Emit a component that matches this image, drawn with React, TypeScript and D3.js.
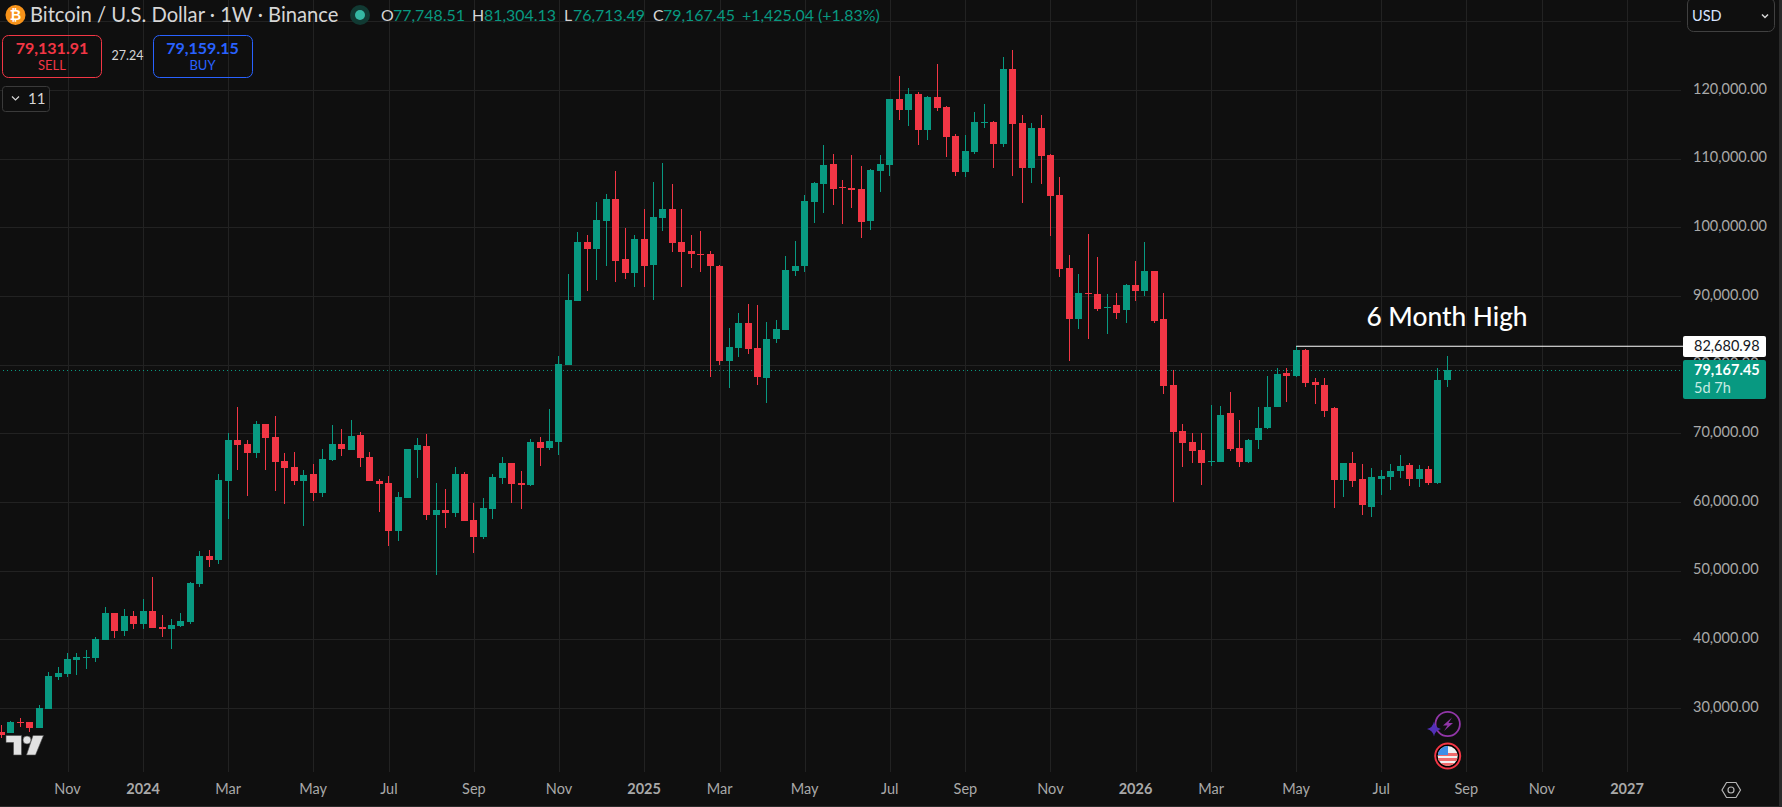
import React from "react";
import * as d3 from "d3";

// weekly candles, index 0 = first Monday of Nov 2023
const firstBar = -7;
const opens = [
  26506, 26360, 27962, 27962, 27088, 29855, 34515, 34952, 36991, 37282, 37282, 39904, 43836, 41214, 43399, 42234,
  44127, 41797, 41506, 41943, 42525, 48059, 52137, 51554, 63059, 69029, 68447, 67136, 71360, 69467, 65972, 65098,
  63059, 64078, 61311, 66117, 68447, 67573, 69758, 66554, 63059, 62768, 55778, 60583, 67573, 68156, 58107, 58835,
  58398, 64078, 57379, 54903, 58981, 63496, 65681, 62768, 62476, 68739, 67864, 68739, 79952, 89272, 97865, 96844,
  100922, 104126, 95388, 93350, 98301, 94515, 101360, 102670, 97865, 96553, 96116, 96116, 94369, 80534, 82427, 86068,
  82427, 78058, 83738, 85049, 93641, 94301, 103689, 106311, 109224, 105874, 105729, 105583, 100922, 108204, 109078,
  118689, 117088, 119418, 114175, 118981, 117525, 113301, 108058, 110971, 115194, 115340, 112136, 123059, 115194,
  108641, 114466, 110535, 104709, 94078, 86650, 90437, 90292, 88253, 88689, 87961, 91602, 90729, 93641, 86650, 77039,
  70340, 68739, 67573, 65826, 65826, 72962, 67864, 65826, 69029, 70778, 73836, 78787, 78350, 82136, 77476, 77039,
  73689, 63205, 65681, 63350, 59272, 63350, 63642, 64515, 65388, 63350, 64806, 62768, 77748.51,
];
const highs = [
  27525, 28108, 28545, 27962, 30438, 35244, 35972, 38011, 38011, 38448, 40341, 44710, 43836, 44418, 44127, 45875,
  49079, 43545, 42962, 43836, 48351, 52865, 53011, 64078, 70049, 73836, 69029, 71797, 71360, 72525, 67136, 67282,
  64660, 65535, 67719, 71214, 70632, 71942, 70195, 67282, 63350, 63787, 61457, 67719, 69321, 69904, 62768, 61894,
  65098, 64369, 59855, 60583, 64078, 66554, 65681, 64515, 69175, 69467, 73544, 81263, 93209, 99321, 98884, 103689,
  104854, 108204, 99904, 98884, 102670, 106602, 109369, 106311, 102670, 98884, 99467, 96553, 94515, 85340, 87524, 88835,
  88689, 86214, 86505, 95825, 98010, 104709, 106602, 111991, 110680, 106894, 110535, 108932, 108495, 110535, 118689,
  122039, 120292, 119709, 119127, 123787, 117670, 113593, 113447, 116796, 117962, 115485, 124806, 125825, 116359,
  115194, 116359, 110680, 107330, 95971, 93209, 99030, 95679, 90292, 90437, 91748, 95097, 97865, 93641, 90437, 79223,
  71360, 70049, 70049, 74127, 73981, 76020, 71942, 69175, 73836, 78350, 79515, 79515, 82680.98, 82282, 78058, 78058,
  73836, 65681, 67282, 65535, 64952, 64660, 65535, 66845, 65681, 65388, 65243, 79515, 81304.13,
];
const lows = [
  25632, 26360, 27234, 26506, 27088, 29855, 34079, 34515, 34807, 35681, 36700, 39904, 40195, 40486, 41506, 41506,
  41651, 40341, 38593, 41797, 42234, 47622, 50535, 50972, 57526, 64660, 60874, 66408, 64660, 61602, 59709, 62476,
  56506, 60146, 60729, 65972, 66700, 67573, 65098, 63059, 58544, 53594, 54320, 60583, 63496, 57379, 49371, 56214,
  57816, 57233, 52573, 54612, 57525, 62622, 59855, 58981, 62330, 65243, 67573, 66845, 79952, 89272, 90729, 92330,
  94301, 92039, 92476, 91311, 91311, 89418, 99467, 96408, 91311, 94078, 93496, 78204, 79952, 76602, 81117, 81554,
  77039, 74418, 83155, 85049, 92912, 93496, 100631, 102087, 103252, 100486, 102816, 98447, 99612, 105146, 107476,
  115631, 114758, 111991, 112719, 116942, 110243, 107476, 107330, 110680, 114466, 108641, 111700, 107476, 103544,
  106457, 106311, 98738, 92767, 80534, 85195, 83738, 87816, 84466, 86650, 86068, 89272, 90000, 86068, 75729, 60000,
  65098, 65681, 62476, 65243, 65826, 67427, 65098, 65681, 67719, 70632, 73836, 74564, 78204, 76748, 74272, 72379,
  59127, 60729, 62184, 58107, 57816, 61019, 61748, 63496, 62330, 62184, 62476, 62622, 76713.49,
];
const closes = [
  26069, 27962, 27816, 27088, 30001, 34661, 35098, 37137, 37428, 37428, 40049, 43836, 41214, 43399, 42234, 44127,
  41651, 41506, 42088, 42671, 48205, 52137, 51554, 63205, 69029, 68302, 67136, 71360, 69321, 65826, 64952, 63059,
  63933, 61311, 66263, 68447, 67719, 69612, 66408, 63059, 62622, 55778, 60729, 67719, 68302, 58107, 58835, 58398,
  64078, 57233, 54903, 59127, 63642, 65681, 62622, 62476, 68739, 67864, 68885, 80098, 89418, 97865, 96844, 101068,
  104126, 95097, 93350, 98301, 94369, 101505, 102670, 97719, 96408, 96116, 95971, 94301, 80534, 82573, 86068, 82282,
  78204, 83738, 85195, 93787, 94369, 103835, 106457, 109078, 105583, 105729, 105437, 100777, 108350, 109224, 118689,
  117088, 119418, 114175, 118981, 117379, 113155, 108058, 111117, 115340, 115340, 112136, 123059, 115049, 108641,
  114466, 110389, 104563, 93933, 86650, 90437, 90292, 88107, 88398, 87524, 91602, 90729, 93641, 86360, 76893, 70195,
  68593, 67427, 65681, 65972, 72670, 67719, 65826, 69029, 70778, 73836, 78641, 78350, 82136, 77330, 77039, 73252,
  63205, 65681, 63059, 59563, 63642, 63787, 64515, 65243, 63350, 64806, 62768, 77767, 79167.45,
];

const priceTicks = [120000, 110000, 100000, 90000, 80000, 70000, 60000, 50000, 40000, 30000];
const gridPrices = [130000, ...priceTicks];
// label, bar index
const timeLabels = ["Nov", "2024", "Mar", "May", "Jul", "Sep", "Nov", "2025", "Mar", "May", "Jul", "Sep", "Nov", "2026", "Mar", "May", "Jul", "Sep", "Nov", "2027"];
const timeBars = [0, 8, 17, 26, 34, 43, 52, 61, 69, 78, 87, 95, 104, 113, 121, 130, 139, 148, 156, 165];

const legendOhlc = [
  { key: "O", value: "77,748.51", kx: 381, vx: 393 },
  { key: "H", value: "81,304.13", kx: 472, vx: 484 },
  { key: "L", value: "76,713.49", kx: 564, vx: 573 },
  { key: "C", value: "79,167.45", kx: 653, vx: 663 },
];

const lastClose = 79167.45;
const sixMonthHigh = 82680.98;
const sixMonthBar = 130;

const WIDTH = 1782;
const HEIGHT = 807;
const UP = "#089981";
const DOWN = "#f23645";
const FONT = "Lato, 'Open Sans', sans-serif";

const x = d3.scaleLinear().domain([0, 165]).range([67.5, 1627]);
const y = d3.scaleLinear().domain([30000, 120000]).range([708, 90]);
const fmt = d3.format(",.2f");

function Candle({ i }: { i: number }) {
  const o = opens[i];
  const c = closes[i];
  const color = c >= o ? UP : DOWN;
  const left = Math.round(x(i + firstBar) - 3.5);
  const top = Math.round(y(Math.max(o, c)));
  const bottom = Math.round(y(Math.min(o, c)));
  const hy = Math.round(y(highs[i]));
  const ly = Math.round(y(lows[i]));
  return (
    <g fill={color}>
      <rect x={left + 3} y={hy} width={1} height={Math.max(ly - hy, 1)} />
      <rect x={left} y={top} width={7} height={Math.max(bottom - top, 1)} />
    </g>
  );
}

export default function App() {
  const axisRight = 1681;
  const gridBottom = 772;
  return (
    <svg
      width={WIDTH}
      height={HEIGHT}
      style={{ position: "fixed", left: 0, top: 0, display: "block", fontFamily: FONT }}
    >
      <rect width={WIDTH} height={HEIGHT} fill="#0f0f0f" />

      {/* grid */}
      <g stroke="#222222" strokeWidth={1} shapeRendering="crispEdges">
        {gridPrices.map((p) => (
          <line key={p} x1={0} x2={axisRight} y1={Math.round(y(p)) + 0.5} y2={Math.round(y(p)) + 0.5} />
        ))}
        {timeBars.map((b) => (
          <line key={b} x1={Math.round(x(b)) + 0.5} x2={Math.round(x(b)) + 0.5} y1={0} y2={gridBottom} />
        ))}
      </g>

      {/* last price line */}
      <line
        x1={3}
        x2={axisRight}
        y1={Math.round(y(lastClose)) + 0.5}
        y2={Math.round(y(lastClose)) + 0.5}
        stroke={UP}
        strokeWidth={1}
        strokeDasharray="1 3"
        shapeRendering="crispEdges"
      />

      <g shapeRendering="crispEdges">
        {opens.map((_, i) => (
          <Candle key={i} i={i} />
        ))}
      </g>

      {/* six month high */}
      <line
        x1={x(sixMonthBar)}
        x2={axisRight + 2}
        y1={y(sixMonthHigh)}
        y2={y(sixMonthHigh)}
        stroke="#ffffff"
        strokeWidth={1.2}
      />
      <text x={1447} y={325.5} fill="#ffffff" fontSize={26.3} textAnchor="middle" fontWeight={500}>
        6 Month High
      </text>

      {/* price axis */}
      <g fill="#a9a9a9" fontSize={14.5}>
        {priceTicks.map((p) => (
          <text key={p} x={1693} y={y(p) + 3.5}>
            {fmt(p)}
          </text>
        ))}
      </g>
      <rect x={1683} y={336} width={83} height={21} fill="#ffffff" rx={2} />
      <text x={1694} y={351} fill="#131722" fontSize={14.5}>
        {fmt(sixMonthHigh)}
      </text>
      <rect x={1683} y={360} width={83} height={39} fill={UP} rx={2} />
      <text x={1694} y={375} fill="#ffffff" fontSize={14.5} fontWeight={700}>
        {fmt(lastClose)}
      </text>
      <text x={1694} y={393} fill="#c8ebe4" fontSize={14.5}>
        5d 7h
      </text>

      {/* time axis */}
      <g fill="#a9a9a9" fontSize={14.5} textAnchor="middle">
        {timeLabels.map((t, k) => (
          <text key={k} x={x(timeBars[k])} y={794} fontWeight={t.length === 4 ? 700 : 400}>
            {t}
          </text>
        ))}
      </g>
      <g fill="none" stroke="#b5b5b5" strokeWidth={1.2}>
        <path d="M1722 790 l4.5 -7.5 h9.5 l4.5 7.5 l-4.5 7.5 h-9.5 z" />
        <circle cx={1731} cy={790} r={3} />
      </g>

      {/* legend */}
      <circle cx={15.5} cy={15} r={10} fill="#f7931a" />
      <text x={15.5} y={20} fill="#ffffff" fontSize={14} fontWeight={700} textAnchor="middle">
        ₿
      </text>
      <text x={30} y={22} fill="#d6d6d6" fontSize={20.2}>
        Bitcoin / U.S. Dollar · 1W · Binance
      </text>
      <circle cx={360} cy={15} r={10} fill="#113a33" />
      <circle cx={360} cy={15} r={5} fill="#35b8a3" />
      <g fontSize={15.9}>
        {legendOhlc.map((d) => (
          <g key={d.key}>
            <text x={d.kx} y={20.5} fill="#d6d6d6">
              {d.key}
            </text>
            <text x={d.vx} y={20.5} fill={UP}>
              {d.value}
            </text>
          </g>
        ))}
        <text x={742} y={20.5} fill={UP}>
          +1,425.04 (+1.83%)
        </text>
      </g>

      {/* order buttons */}
      <rect x={2.5} y={35.5} width={99} height={42} rx={6} fill="none" stroke={DOWN} />
      <text x={52} y={53.5} fill={DOWN} fontSize={16} fontWeight={700} textAnchor="middle">
        79,131.91
      </text>
      <text x={52} y={70} fill={DOWN} fontSize={13} textAnchor="middle">
        SELL
      </text>
      <text x={127.5} y={60} fill="#d6d6d6" fontSize={12.5} textAnchor="middle">
        27.24
      </text>
      <rect x={153.5} y={35.5} width={99} height={42} rx={6} fill="none" stroke="#2962ff" />
      <text x={202.5} y={53.5} fill="#2962ff" fontSize={16} fontWeight={700} textAnchor="middle">
        79,159.15
      </text>
      <text x={202.5} y={70} fill="#2962ff" fontSize={13} textAnchor="middle">
        BUY
      </text>

      {/* collapsed indicators */}
      <rect x={2.5} y={86.5} width={47} height={25} rx={3} fill="#0f0f0f" stroke="#3a3a3a" />
      <path d="M12 96.5 l3.5 3.5 l3.5 -3.5" fill="none" stroke="#d6d6d6" strokeWidth={1.2} />
      <text x={28} y={104} fill="#d6d6d6" fontSize={15}>
        11
      </text>

      {/* currency */}
      <rect x={1687.5} y={-2} width={87} height={33.5} rx={6} fill="none" stroke="#404040" />
      <text x={1692} y={21} fill="#d8e4ff" fontSize={14.5}>
        USD
      </text>
      <path d="M1762 14.5 l3 3 l3 -3" fill="none" stroke="#d6d6d6" strokeWidth={1.5} />

      {/* tradingview logo */}
      <g fill="#e2e2e2" stroke="#4a4a4a" strokeWidth={0.6}>
        <path d="M6 735.5 H21.5 V755 H13.5 V742.5 H6 Z" />
        <circle cx={27} cy={740} r={4} />
        <path d="M33 735.5 H43.5 L35.5 755 H26.5 Z" />
      </g>

      {/* event marks */}
      <circle cx={1447.7} cy={724} r={12.2} fill="#0f0f0f" stroke="#9236a8" strokeWidth={1.8} />
      <path d="M1452 717.5 l-9 8 h4.5 l-3.5 5.5 l9 -8 h-4.5 z" fill="#9236a8" />
      <path d="M1434 721.5 q1.2 6.3 7 7.5 q-5.8 1.2 -7 7.5 q-1.2 -6.3 -7 -7.5 q5.8 -1.2 7 -7.5 z" fill="#5230b8" />
      <circle cx={1447.7} cy={756} r={12.5} fill="#000000" stroke={DOWN} strokeWidth={2} />
      <clipPath id="flag">
        <circle cx={1447.7} cy={756} r={10} />
      </clipPath>
      <g clipPath="url(#flag)" shapeRendering="crispEdges">
        <rect x={1437} y={746} width={22} height={20} fill="#f0f0f0" />
        <rect x={1437} y={753} width={22} height={2.5} fill="#f06a6a" />
        <rect x={1437} y={758} width={22} height={2.5} fill="#f06a6a" />
        <rect x={1437} y={763} width={22} height={3} fill="#f06a6a" />
        <rect x={1437} y={746} width={11} height={9} fill="#3d8fe8" />
      </g>

      {/* window edge */}
      <rect x={1779} y={0} width={3} height={HEIGHT} fill="#2a2a2a" />
      <rect x={0} y={806} width={WIDTH} height={1} fill="#2a2a2a" />
    </svg>
  );
}
